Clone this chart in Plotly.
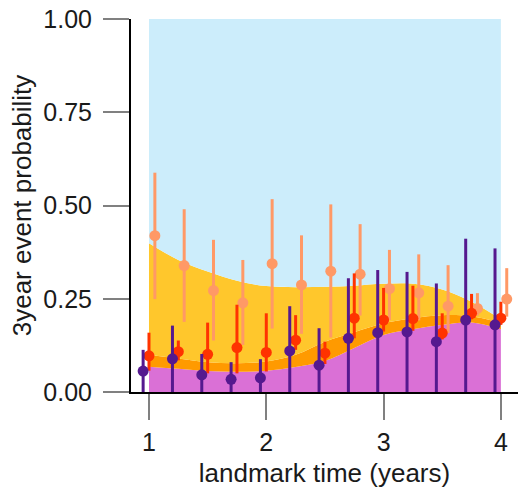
import plotly.graph_objects as go

# Landmark times (years)
landmarks = [1.0, 1.25, 1.5, 1.75, 2.0, 2.25, 2.5, 2.75, 3.0, 3.25, 3.5, 3.75, 4.0]

# Stacked model curves (cumulative probability boundaries)
band_purple_top = [0.068, 0.062, 0.056, 0.054, 0.057, 0.067, 0.083, 0.118, 0.153, 0.168, 0.180, 0.186, 0.168]
band_orange_top = [0.100, 0.090, 0.080, 0.077, 0.082, 0.100, 0.135, 0.160, 0.184, 0.198, 0.206, 0.203, 0.185]
band_yellow_top = [0.399, 0.354, 0.323, 0.298, 0.284, 0.281, 0.282, 0.285, 0.290, 0.290, 0.275, 0.242, 0.195]
band_blue_top = [1.0] * len(landmarks)

# Observed estimates with confidence intervals
purple_est = [0.056, 0.089, 0.046, 0.034, 0.038, 0.110, 0.072, 0.144, 0.159, 0.161, 0.135, 0.193, 0.180]
purple_lo = [0.0] * 13
purple_hi = [0.113, 0.178, 0.102, 0.080, 0.088, 0.230, 0.171, 0.305, 0.327, 0.322, 0.291, 0.411, 0.385]

red_est = [0.097, 0.108, 0.101, 0.119, 0.106, 0.139, 0.104, 0.198, 0.193, 0.197, 0.158, 0.211, 0.198]
red_lo = [0.057, 0.085, 0.050, 0.050, 0.055, 0.113, 0.075, 0.144, 0.162, 0.164, 0.141, 0.195, 0.180]
red_hi = [0.159, 0.138, 0.186, 0.234, 0.211, 0.206, 0.135, 0.318, 0.279, 0.285, 0.211, 0.263, 0.242]

salmon_est = [0.419, 0.339, 0.272, 0.239, 0.344, 0.287, 0.324, 0.316, 0.277, 0.266, 0.230, 0.224, 0.249]
salmon_lo = [0.249, 0.188, 0.138, 0.126, 0.170, 0.156, 0.146, 0.205, 0.193, 0.192, 0.158, 0.205, 0.202]
salmon_hi = [0.588, 0.490, 0.408, 0.354, 0.517, 0.420, 0.503, 0.450, 0.381, 0.369, 0.340, 0.265, 0.332]

offset_purple = -0.05
offset_red = 0.0
offset_salmon = 0.05

C_BLUE = "#CCEDFB"
C_YELLOW = "#FFC72C"
C_ORANGE = "#FF9A00"
C_ORCHID = "#DA70D6"
C_PURPLE = "#55198F"
C_RED = "#FF3300"
C_SALMON = "#FF9966"

fig = go.Figure()

def band(y, fill, color):
    fig.add_trace(go.Scatter(
        x=landmarks, y=y, mode="lines", fill=fill, fillcolor=color,
        line=dict(width=0, shape="spline", smoothing=1.0),
        hoverinfo="skip", showlegend=False))

band(band_purple_top, "tozeroy", C_ORCHID)
band(band_orange_top, "tonexty", C_ORANGE)
band(band_yellow_top, "tonexty", C_YELLOW)
band(band_blue_top, "tonexty", C_BLUE)

def points(est, lo, hi, off, color):
    xs = [t + off for t in landmarks]
    fig.add_trace(go.Scatter(
        x=xs, y=est, mode="markers",
        marker=dict(size=11, color=color),
        error_y=dict(type="data", symmetric=False,
                     array=[h - e for h, e in zip(hi, est)],
                     arrayminus=[e - l for e, l in zip(est, lo)],
                     width=0, thickness=3, color=color),
        showlegend=False, cliponaxis=True))

points(salmon_est, salmon_lo, salmon_hi, offset_salmon, C_SALMON)
points(red_est, red_lo, red_hi, offset_red, C_RED)
points(purple_est, purple_lo, purple_hi, offset_purple, C_PURPLE)

font_family = "Liberation Sans, Arial, sans-serif"

fig.update_layout(
    width=518, height=488,
    margin=dict(l=131, r=0, t=19, b=96, autoexpand=False),
    paper_bgcolor="white", plot_bgcolor="white",
    font=dict(family=font_family, color="#1a1a1a"),
    showlegend=False,
    xaxis=dict(
        range=[0.8466, 4.146], automargin=False,
        tickvals=[1, 2, 3, 4], ticktext=["1", "2", "3", "4"],
        ticks="outside", ticklen=26, tickwidth=2, tickcolor="#808080",
        showline=True, linecolor="black", linewidth=2,
        showgrid=False, zeroline=False,
        tickfont=dict(size=25, color="#1a1a1a"),
        ticklabelstandoff=1,
        title=dict(text="landmark time (years)", font=dict(size=26, color="#1a1a1a"), standoff=12),
    ),
    yaxis=dict(
        range=[0, 1], automargin=False,
        tickvals=[0, 0.25, 0.5, 0.75, 1.0],
        ticktext=["0.00", "0.25", "0.50", "0.75", "1.00"],
        ticks="outside", ticklen=26, tickwidth=2, tickcolor="#808080",
        showline=True, linecolor="black", linewidth=2,
        showgrid=False, zeroline=False,
        tickfont=dict(size=25, color="#1a1a1a"),
        ticklabelstandoff=6,
        title=dict(text="3year event probability", font=dict(size=26, color="#1a1a1a"), standoff=4),
    ),
)

fig.write_html(
    "out.html",
    config={"displayModeBar": False, "staticPlot": True},
    post_script="document.body.style.margin='0';document.body.style.overflow='hidden';",
)
